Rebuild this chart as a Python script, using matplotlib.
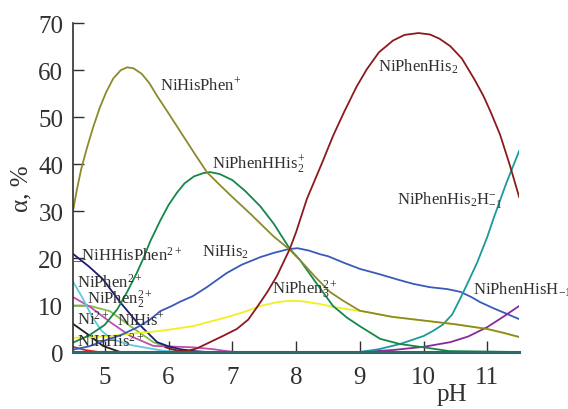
import numpy as np
import matplotlib
matplotlib.use('Agg')
import matplotlib.pyplot as plt

plt.rcParams['font.family'] = ['Liberation Serif', 'DejaVu Serif']
plt.rcParams['mathtext.fontset'] = 'custom'
plt.rcParams['mathtext.rm'] = 'Liberation Serif'
plt.rcParams['mathtext.it'] = 'Liberation Serif:italic'
plt.rcParams['mathtext.bf'] = 'Liberation Serif:bold'

# species distribution, alpha % vs pH
olive_ph = [4.5, 4.56, 4.63, 4.72, 4.82, 4.92, 5.02, 5.13, 5.25, 5.35, 5.45, 5.58, 5.7, 5.82, 6.0, 6.2,
            6.4, 6.6, 6.8, 7.0, 7.3, 7.64, 7.9, 8.1, 8.3, 8.53, 8.74, 9.0, 9.5, 10.0, 10.5, 11.0, 11.25, 11.5]
olive = [30, 34.5, 39, 43.5, 48, 52, 55.3, 58.2, 60, 60.6, 60.4, 59.2, 57.2, 54.5, 50.8, 46.6,
         42.4, 38.3, 35.6, 33, 29.2, 24.7, 21.8, 19, 16, 12.8, 10.9, 8.8, 7.5, 6.7, 5.9, 4.9, 4.1, 3.2]

green_ph = [4.5, 4.75, 5.0, 5.2, 5.35, 5.5, 5.6, 5.71, 5.87, 6.0, 6.13, 6.25, 6.4, 6.55, 6.65, 6.8, 7.0,
            7.2, 7.44, 7.65, 7.9, 8.06, 8.3, 8.58, 8.8, 9.0, 9.32, 9.63, 10.0, 10.4, 11.5]
green = [2, 3.5, 5.8, 9.2, 12.8, 16.8, 19.8, 23.5, 28, 31.3, 33.9, 35.9, 37.4, 38.1, 38.3, 37.9, 36.6,
         34.3, 31, 27.3, 22, 19.6, 15, 9.8, 7.3, 5.5, 2.8, 1.7, 1.0, 0.2, 0]

red_ph = [5.95, 6.05, 6.15, 6.29, 6.45, 6.65, 6.85, 7.07, 7.25, 7.39, 7.55, 7.7, 7.9, 8.0, 8.17, 8.4,
          8.58, 8.75, 8.95, 9.11, 9.3, 9.52, 9.7, 9.92, 10.1, 10.25, 10.42, 10.6, 10.8, 10.94, 11.05,
          11.2, 11.36, 11.5]
red = [1.0, 0.6, 0.3, 0.2, 0.8, 2.1, 3.4, 4.9, 6.9, 9.6, 12.8, 16.2, 21.9, 25.5, 32.6, 40,
       46, 51, 56.5, 60.2, 63.8, 66.3, 67.5, 67.9, 67.6, 66.7, 65.1, 62.5, 58, 54.5, 51.2,
       46.3, 39.5, 33]

blue_ph = [4.5, 4.75, 4.97, 5.25, 5.5, 5.7, 5.87, 6.05, 6.18, 6.38, 6.6, 6.91, 7.15, 7.44, 7.65, 7.88,
           8.02, 8.2, 8.38, 8.5, 8.75, 9.0, 9.3, 9.6, 9.84, 10.1, 10.37, 10.58, 10.75, 10.89, 11.1, 11.31, 11.5]
blue = [0.5, 1.2, 2.3, 3.6, 5.2, 6.8, 8.7, 9.8, 10.7, 11.9, 13.8, 16.8, 18.6, 20.2, 21.1, 21.9,
        22.1, 21.6, 20.8, 20.4, 19, 17.7, 16.6, 15.4, 14.5, 13.8, 13.4, 12.8, 11.7, 10.6, 9.3, 8.1, 7]

yellow_ph = [4.5, 5.0, 5.5, 5.87, 6.38, 6.91, 7.2, 7.44, 7.7, 7.9, 8.1, 8.38, 8.58, 9.11, 9.5, 10.0,
             10.5, 11.0, 11.5]
yellow = [3.0, 3.3, 4.0, 4.5, 5.5, 7.4, 8.6, 9.8, 10.6, 10.9, 10.8, 10.2, 9.6, 8.5, 7.5, 6.7,
          5.9, 4.9, 3.2]

teal_ph = [9.0, 9.3, 9.63, 10.0, 10.15, 10.3, 10.45, 10.58, 10.72, 10.84, 11.0, 11.1, 11.3, 11.5]
teal = [0, 0.6, 1.7, 3.4, 4.5, 5.8, 8, 11.5, 15.5, 19, 24.5, 28.5, 36, 42.8]

purple_ph = [9.0, 9.5, 10.0, 10.42, 10.7, 11.0, 11.25, 11.5]
purple = [0, 0.4, 1.1, 2.1, 3.3, 5.3, 7.5, 9.8]

navy_ph = [4.5, 4.75, 4.97, 5.24, 5.5, 5.82, 6.0, 6.18, 6.4, 6.6]
navy = [20.9, 18.2, 15.5, 10.6, 6.4, 2.1, 1.2, 0.6, 0.2, 0]

cyan_ph = [4.5, 4.65, 4.8, 4.95, 5.1, 5.4, 5.9, 6.2]
cyan = [15, 11.5, 7.5, 4.5, 2.8, 1.5, 0.3, 0]

magenta_ph = [4.5, 4.77, 5.08, 5.4, 5.76, 5.97, 6.38, 6.7, 6.91, 7.05]
magenta = [11.7, 9.6, 6.4, 3.4, 1.3, 1.2, 1.0, 0.6, 0.2, 0]

lgreen_ph = [4.5, 4.77, 5.08, 5.4, 5.76, 6.13]
lgreen = [9.8, 9.8, 8.7, 5.5, 2.1, 0.2]

black_ph = [4.5, 4.77, 4.97, 5.24]
black = [6, 3.4, 1.3, 0]

lred_ph = [4.5, 4.7, 4.9]
lred = [1.1, 0.4, 0]

labels = ['NiHisPhen$^{+}$', 'NiPhenHHis$_{2}^{+}$', 'NiPhenHis$_{2}$', 'NiPhenHis$_{2}$H$_{-1}^{-}$',
          'NiPhenHisH$_{-1}$', 'NiPhen$_{3}^{2+}$', 'NiHis$_{2}$', '_NiHHisPhen$^{2+}$',
          'NiPhen$^{2+}$', 'NiPhen$_{2}^{2+}$', 'Ni$^{2+}$', 'NiHis$^{+}$', 'NiHHis$^{2+}$']
label_x = [5.87, 6.68, 9.29, 9.59, 10.78, 7.62, 6.52, 4.5, 4.56, 4.72, 4.56, 5.19, 4.56]
label_y = [57, 40, 61, 32.5, 13.4, 13.4, 21.5, 20.9, 14.9, 11.2, 7.0, 7.0, 2.3]

fig = plt.figure(figsize=(5.68, 4.1), dpi=100)
ax = fig.add_axes([0.1285, 0.139, 0.7855, 0.802])

lw = 1.3
ax.plot(lred_ph, lred, color='#e02020', lw=lw)
ax.plot(black_ph, black, color='#202020', lw=lw)
ax.plot(lgreen_ph, lgreen, color='#80c040', lw=lw)
ax.plot(magenta_ph, magenta, color='#c050b0', lw=lw)
ax.plot(cyan_ph, cyan, color='#60c8e0', lw=lw)
ax.plot(navy_ph, navy, color='#1c1c70', lw=lw)
ax.plot(yellow_ph, yellow, color='#f0f020', lw=lw)
ax.plot(blue_ph, blue, color='#3a5ab8', lw=lw)
ax.plot(purple_ph, purple, color='#8a2a9a', lw=lw)
ax.plot(teal_ph, teal, color='#1a9a9a', lw=lw)
ax.plot(green_ph, green, color='#14874a', lw=lw)
ax.plot(olive_ph, olive, color='#8c8a2c', lw=lw)
ax.plot(red_ph, red, color='#8b1a1e', lw=lw)

for t, x, y in zip(labels, label_x, label_y):
    ax.text(x, y, t, fontsize=12, color='#303030', va='center', ha='left', clip_on=False)

ax.set_xlim(4.5, 11.5)
ax.set_ylim(0, 70)
ax.set_xticks([5, 6, 7, 8, 9, 10, 11])
ax.set_yticks(np.arange(0, 71, 10))
ax.spines['top'].set_visible(False)
ax.spines['right'].set_visible(False)
ax.spines['bottom'].set_color('#2a6a6a')
ax.spines['bottom'].set_linewidth(2.2)
ax.spines['left'].set_color('#303030')
ax.spines['left'].set_linewidth(1.2)
ax.tick_params(axis='x', direction='in', length=8, width=1, labelsize=18, pad=10, colors='#303030')
ax.tick_params(axis='y', direction='in', length=8, width=1, labelsize=18, pad=7, colors='#303030')

ax.set_ylabel('α, %', fontsize=18, color='#303030')
ax.yaxis.set_label_coords(-0.09, 0.5)
ax.set_xlabel('pH', fontsize=18, color='#303030')
ax.xaxis.set_label_coords(0.85, -0.095)

fig.savefig('out.png', dpi=100)
